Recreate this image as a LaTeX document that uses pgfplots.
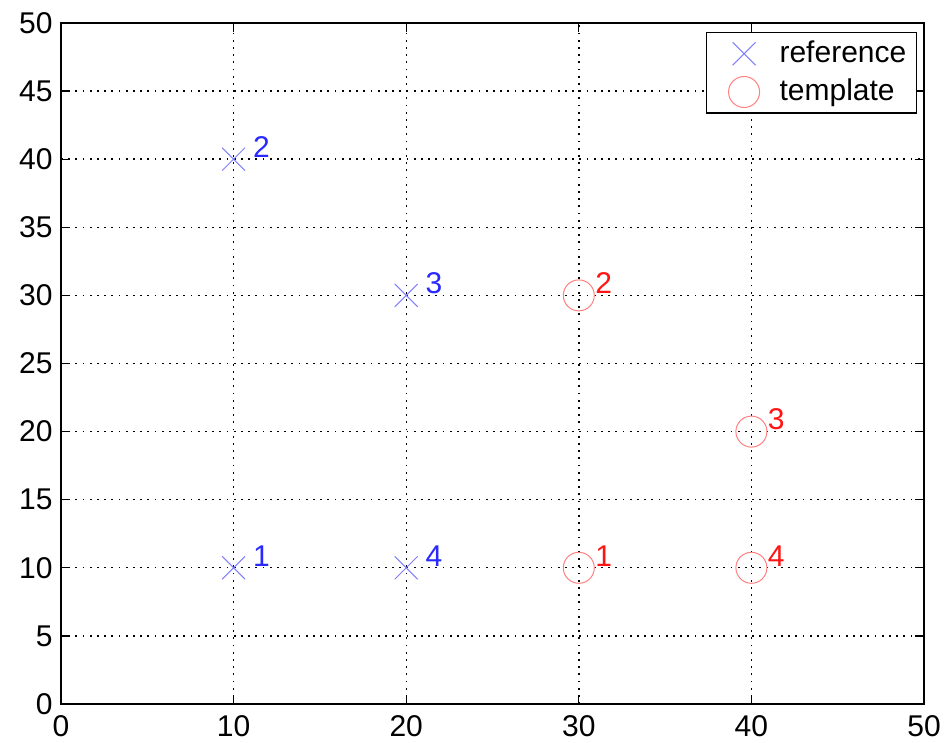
\documentclass[border=0pt]{standalone}
\usepackage{pgfplots}
\pgfplotsset{compat=1.18}
\usepackage{fontspec}
\setmainfont{Liberation Sans}
\definecolor{mblue}{RGB}{128,128,255}
\definecolor{mred}{RGB}{255,128,128}
\definecolor{tblue}{RGB}{40,40,255}
\definecolor{tred}{RGB}{255,20,20}
\begin{document}
\fontsize{15}{17}\selectfont
\begin{tikzpicture}
\begin{axis}[
  scale only axis,
  width=431.5pt, height=340.5pt,
  xmin=0, xmax=50, ymin=0, ymax=50,
  xtick={0,10,...,50}, ytick={0,5,...,50},
  grid=major,
  major grid style={black, dash pattern=on 0.9pt off 2.7pt, line width=0.7pt},
  axis line style={black, line width=0.8pt},
  tick style={black, line width=0.6pt},
  tick align=inside,
  major tick length=4.5pt,
  ticklabel style={font=\fontsize{15}{17}\selectfont},
  /pgf/number format/assume math mode=true,
  yticklabel style={inner xsep=0pt, xshift=-4pt},
  xticklabel style={inner sep=0pt, yshift=-5.5pt},
  legend style={at={(rel axis cs:0.9919,0.9868)}, anchor=north east, draw=black, line width=0.7pt,
    font=\fontsize{15}{17}\selectfont, inner xsep=3pt, inner ysep=2pt, row sep=2pt,
    legend cell align=left},
  legend image code/.code={\path (0,0) (31pt,0); \draw[#1] plot coordinates {(15.5pt,0pt)};},
  clip=false,
]
\path (rel axis cs:0,0) ++(-30.5pt,-19pt) (rel axis cs:1,1) ++(10pt,11.5pt);
\addplot[only marks, mark=x, mark size=8.1pt, color=mblue, line width=0.5pt,
  point meta=explicit symbolic,
  nodes near coords, every node near coord/.append style={anchor=west, inner sep=0pt, xshift=9.5pt, yshift=6pt, text=tblue, font=\fontsize{15}{17}\selectfont}]
  table[meta=lab] {
x y lab
10 10 1
10 40 2
20 30 3
20 10 4
};
\addlegendentry{reference}
\addplot[only marks, mark=o, mark size=7.75pt, color=mred, line width=0.5pt,
  point meta=explicit symbolic,
  nodes near coords, every node near coord/.append style={anchor=west, inner sep=0pt, xshift=8pt, yshift=6pt, text=tred, font=\fontsize{15}{17}\selectfont}]
  table[meta=lab] {
x y lab
30 10 1
30 30 2
40 20 3
40 10 4
};
\addlegendentry{template}
\end{axis}
\end{tikzpicture}
\end{document}
